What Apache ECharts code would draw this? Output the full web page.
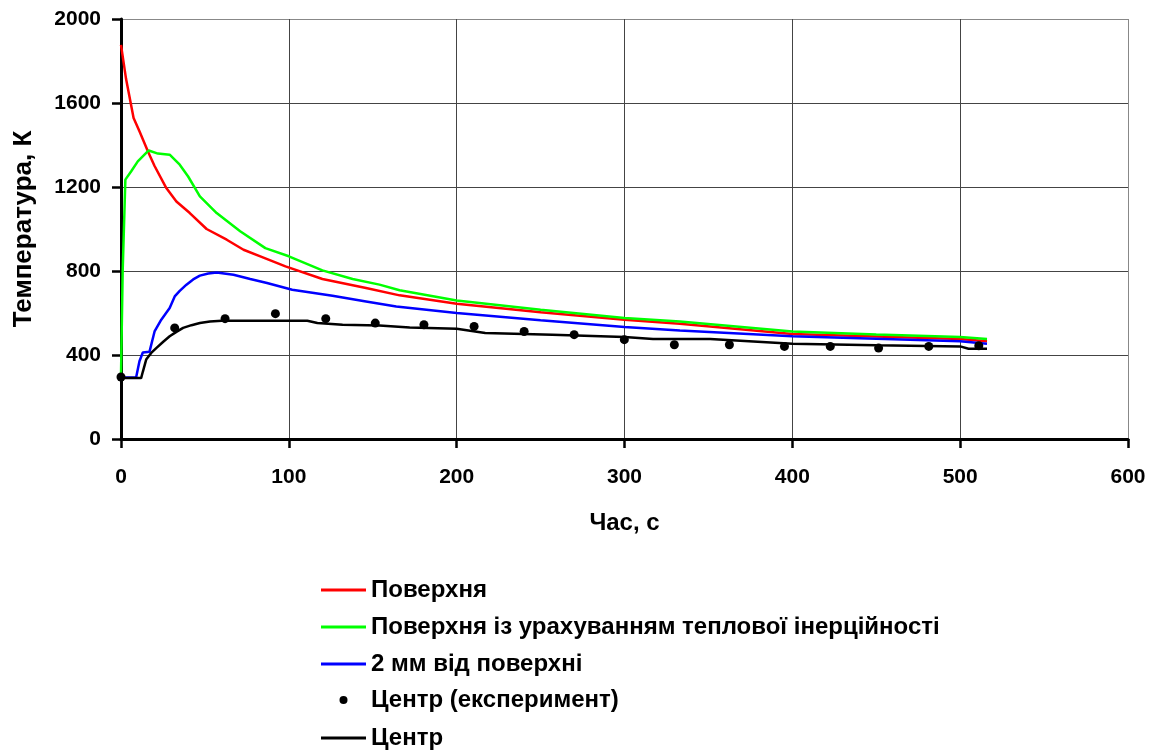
<!DOCTYPE html>
<html>
<head>
<meta charset="utf-8">
<script src="https://cdn.jsdelivr.net/npm/echarts@6/dist/echarts.min.js"></script>
<style>
  html, body { margin: 0; padding: 0; background: #fff; }
  #chart { width: 1159px; height: 751px; }
</style>
</head>
<body>
<div id="chart"></div>
<script>
// Temperature histories (time in s, temperature in K)
const surfaceTime = [0, 3, 7.5, 11, 16, 20, 27, 33, 41, 51, 63, 73, 83, 98, 120, 146, 166, 200, 250, 300, 333, 400, 450, 500, 516];
const surfaceTemp = [1877, 1715, 1529, 1465, 1370, 1300, 1195, 1131, 1076, 1000, 949, 901, 870, 822, 762, 719, 684, 644, 604, 568, 549, 500, 488, 476, 465];

const inertiaTime = [0, 1, 2.6, 6, 10, 16.5, 22, 29, 35, 40, 47, 57, 71, 86, 100, 120, 138, 154, 166, 200, 250, 300, 333, 400, 450, 500, 516];
const inertiaTemp = [300, 800, 1235, 1274, 1322, 1374, 1359, 1354, 1306, 1250, 1155, 1076, 989, 909, 870, 803, 762, 735, 708, 660, 615, 576, 560, 512, 498, 486, 476];

const depthTime = [0, 9, 11, 13, 17, 20, 24, 29, 32, 35, 39, 43, 47, 52, 57, 67, 77, 87, 102, 126, 146, 164, 200, 250, 300, 333, 400, 450, 500, 516];
const depthTemp = [293, 293, 370, 412, 416, 512, 568, 624, 679, 705, 735, 760, 778, 788, 793, 782, 762, 743, 711, 682, 655, 631, 600, 565, 533, 517, 489, 477, 465, 454];

const centerTime = [0, 12, 13, 15, 18, 21, 25, 29, 33, 37, 42, 47, 53, 60, 111, 117, 132, 154, 172, 200, 217, 257, 300, 317, 351, 400, 450, 500, 505, 516];
const centerTemp = [290, 290, 320, 378, 410, 433, 462, 489, 510, 529, 542, 552, 560, 563, 563, 552, 544, 541, 531, 525, 505, 497, 486, 476, 476, 454, 447, 441, 430, 430];

const expTime = [0, 32, 62, 92, 122, 151.5, 180.5, 210.4, 240.2, 270, 299.9, 329.7, 362.5, 395.3, 422.6, 451.4, 481.3, 511.1];
const expTemp = [295, 529, 573, 597, 573, 552, 544, 536, 512, 497, 473, 449, 449, 441, 441, 433, 441, 444];

const seriesNames = [
  'Поверхня',
  'Поверхня із урахуванням теплової інерційності',
  '2 мм від поверхні',
  'Центр (експеримент)',
  'Центр'
];
const xTitle = 'Час, с';
const yTitle = 'Температура, К';

const zip = (t, v) => t.map((x, i) => [x, v[i]]);

const FONT = 'Arial, "Liberation Sans", sans-serif';
const textBase = { fontFamily: FONT, fontWeight: 'bold', color: '#000' };

// Legend marker for the measured points: a small dot centred in a 45x8 box
const DOT_ICON = 'path://M0 0M45 8M18.5 4A4 4 0 1 0 26.5 4A4 4 0 1 0 18.5 4Z';

const chart = echarts.init(document.getElementById('chart'), null, { renderer: 'canvas' });

const lineSeries = (name, data, color) => ({
  name, type: 'line', data, symbol: 'none', smooth: false,
  lineStyle: { color, width: 2.5 }, itemStyle: { color },
  z: 3
});

const legendCommon = {
  orient: 'vertical', left: 316, itemWidth: 45, itemGap: 13,
  textStyle: Object.assign({ fontSize: 24 }, textBase),
  selectedMode: false
};

chart.setOption({
  animation: false,
  grid: { left: 121, top: 19, width: 1007, height: 420, containLabel: false, outerBoundsMode: 'none' },
  xAxis: {
    type: 'value', min: 0, max: 600, interval: 100,
    name: xTitle, nameLocation: 'middle', nameGap: 72,
    nameTextStyle: Object.assign({ fontSize: 24 }, textBase),
    axisLine: { onZero: false, lineStyle: { color: '#000', width: 3 } },
    axisTick: { show: true, length: 9, lineStyle: { color: '#000', width: 2.5 } },
    axisLabel: Object.assign({ fontSize: 21, margin: 28, formatter: v => String(v) }, textBase),
    splitLine: { show: true, lineStyle: { color: ['#444', '#444', '#444', '#444', '#444', '#444', '#888'], width: 1 } }
  },
  yAxis: {
    type: 'value', min: 0, max: 2000, interval: 400,
    name: yTitle, nameLocation: 'middle', nameGap: 84, nameRotate: 90,
    nameTextStyle: Object.assign({ fontSize: 26 }, textBase),
    axisLine: { show: true, onZero: false, lineStyle: { color: '#000', width: 3 } },
    axisTick: { show: true, length: 9, lineStyle: { color: '#000', width: 2.5 } },
    axisLabel: Object.assign({ fontSize: 21, margin: 20, formatter: v => String(v) }, textBase),
    splitLine: { show: true, lineStyle: { color: ['#444', '#444', '#444', '#444', '#444', '#888'], width: 1 } }
  },
  legend: [
    Object.assign({ top: 573, itemHeight: 3, icon: 'rect', data: seriesNames.slice(0, 3) }, legendCommon),
    Object.assign({ top: 683, itemHeight: 8, icon: DOT_ICON, data: [seriesNames[3]] }, legendCommon),
    Object.assign({ top: 721, itemHeight: 3, icon: 'rect', data: [seriesNames[4]] }, legendCommon)
  ],
  series: [
    lineSeries(seriesNames[0], zip(surfaceTime, surfaceTemp), '#ff0000'),
    lineSeries(seriesNames[1], zip(inertiaTime, inertiaTemp), '#00ff00'),
    lineSeries(seriesNames[2], zip(depthTime, depthTemp), '#0000ff'),
    lineSeries(seriesNames[4], zip(centerTime, centerTemp), '#000000'),
    {
      name: seriesNames[3], type: 'scatter', data: zip(expTime, expTemp),
      symbol: 'circle', symbolSize: 9, itemStyle: { color: '#000', opacity: 1 }, z: 4
    }
  ]
});
</script>
</body>
</html>
